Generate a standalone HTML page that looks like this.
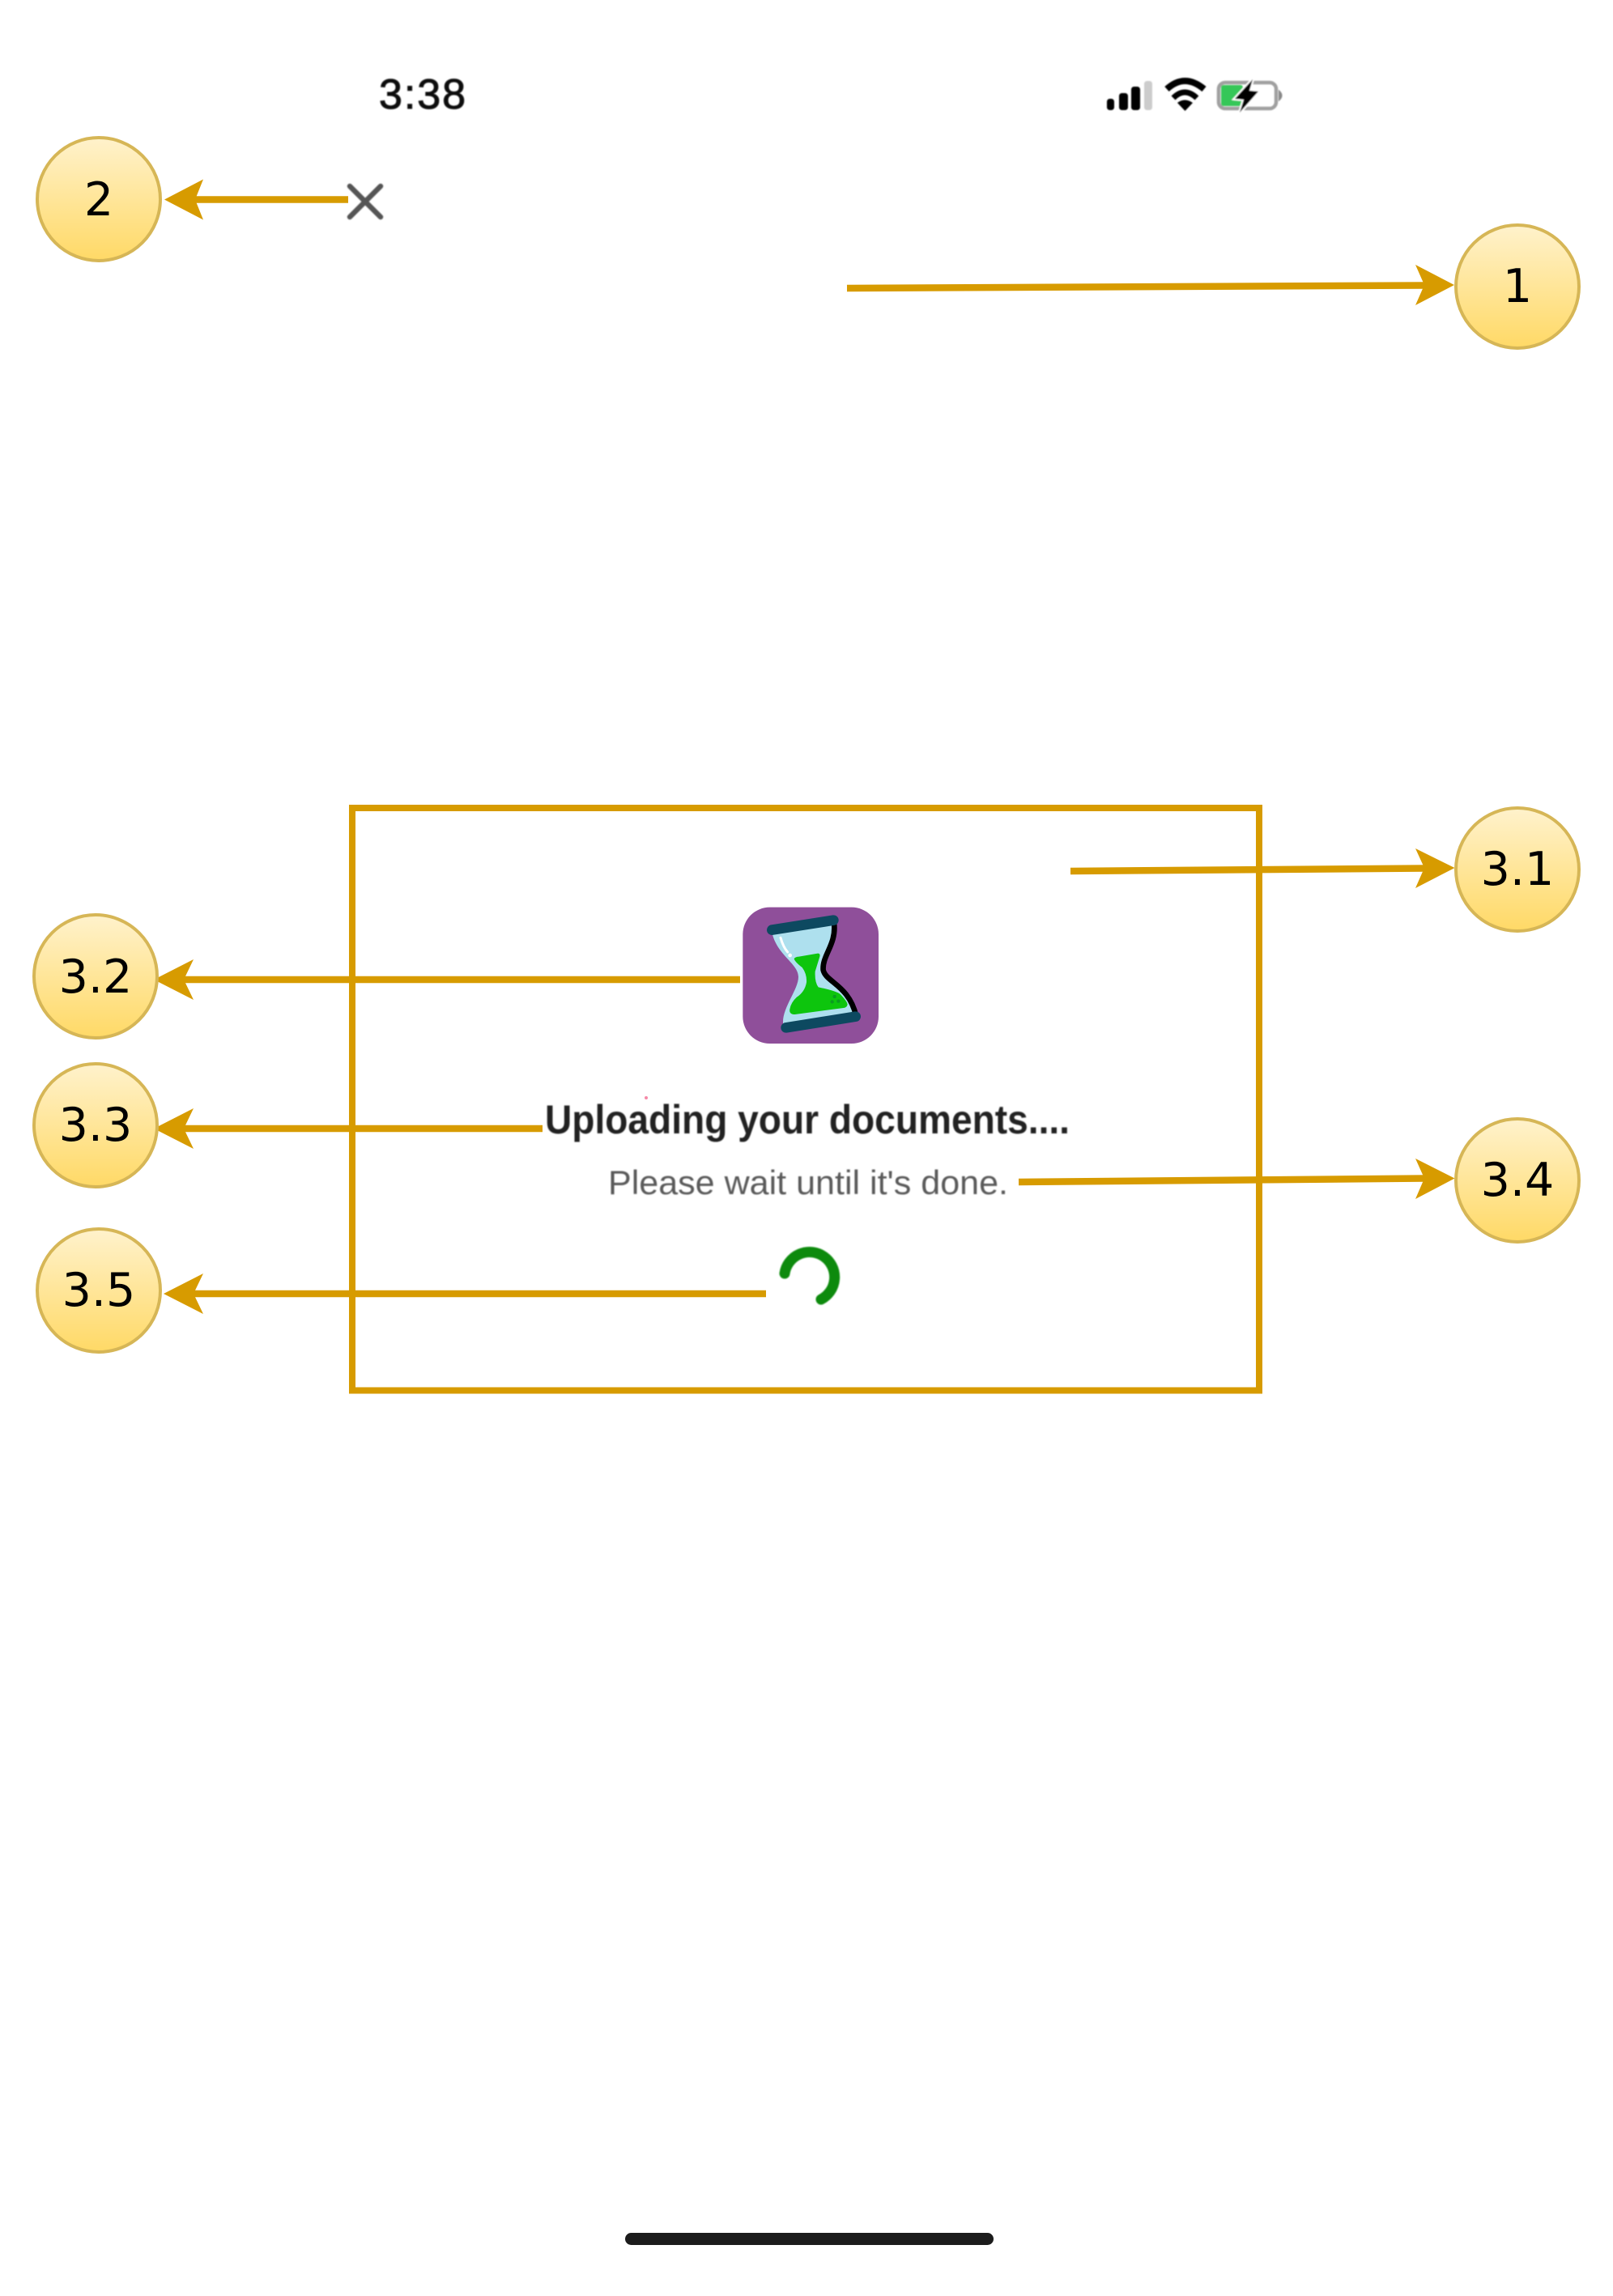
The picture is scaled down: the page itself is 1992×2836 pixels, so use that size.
<!DOCTYPE html>
<html lang="en">
<head>
<meta charset="utf-8">
<title>Upload progress annotated screen</title>
<style>
html,body{margin:0;padding:0;background:#fff;width:1992px;height:2836px;overflow:hidden}
svg{display:block}
.n{font-family:"DejaVu Sans",sans-serif;font-size:57px;fill:#000;text-anchor:middle}
</style>
</head>
<body>
<svg xmlns="http://www.w3.org/2000/svg" width="1992" height="2836" viewBox="0 0 1992 2836">
<defs>
<linearGradient id="g" x1="0" y1="0" x2="0" y2="1">
<stop offset="0" stop-color="#fff2cc"/><stop offset="1" stop-color="#ffd966"/>
</linearGradient>
<filter id="b" x="-30%" y="-30%" width="160%" height="160%"><feGaussianBlur stdDeviation="0.7"/></filter>
</defs>
<rect width="1992" height="2836" fill="#fff"/>

<!-- Status bar -->
<g filter="url(#b)">
<text x="468" y="134" font-family="'Liberation Sans',sans-serif" font-size="52" fill="#111" stroke="#111" stroke-width="1" textLength="107" lengthAdjust="spacing">3:38</text>
<rect x="1367" y="122" width="9" height="14" rx="3.5" fill="#000"/>
<rect x="1382" y="115" width="11" height="21" rx="3.5" fill="#000"/>
<rect x="1397" y="107" width="11" height="29" rx="3.5" fill="#000"/>
<rect x="1413" y="100" width="10" height="36" rx="3.5" fill="#ccc"/>
<path d="M1441 110Q1463 90 1487 110" fill="none" stroke="#000" stroke-width="8"/>
<path d="M1449 121Q1463 107 1478 121" fill="none" stroke="#000" stroke-width="7"/>
<path d="M1454 127Q1463 120 1473 127L1463.5 137Z" fill="#000"/>
<rect x="1505" y="102" width="71" height="32" rx="8" fill="none" stroke="#a0a0a0" stroke-width="4.5"/>
<path d="M1580 113Q1585 118 1580 123Z" fill="#888" stroke="#888" stroke-width="2"/>
<rect x="1508" y="105" width="27" height="26" rx="3" fill="#34c759"/>
<polygon points="1547,98 1525,122 1536,123 1531,139 1554,113 1543,112" fill="#000" stroke="#fff" stroke-width="4" paint-order="stroke"/>
</g>

<!-- Close icon -->
<path d="M432 230L470 268M470 230L432 268" stroke="#555" stroke-width="6.5" stroke-linecap="round" fill="none" filter="url(#b)"/>

<!-- Frame -->
<rect x="435" y="998" width="1120" height="719.5" fill="none" stroke="#d79b00" stroke-width="8"/>

<!-- Hourglass icon -->
<svg x="860" y="1090" width="300" height="220" viewBox="0 0 900 660">
<g filter="url(#b)">
<rect x="172" y="92" width="503" height="505" rx="100" fill="#8f4f9a"/>
<path d="M280 185L508 150C512 230 458 275 462 320C470 370 555 385 590 495L322 530C312 470 378 400 378 350C378 300 298 270 280 185Z" fill="#aee0ee"/>
<path d="M510 150C520 230 465 270 470 325C480 370 565 380 592 495" fill="none" stroke="#000" stroke-width="20"/>
<path d="M362 283Q365 276 380 275L450 263Q460 263 457 275L440 330Q438 370 452 388Q522 403 534 415Q558 440 560 452Q558 464 545 465L365 489Q343 489 346 470Q350 445 372 425Q402 405 408 370Q410 340 392 315Q366 295 362 283Z" fill="#07c50f"/>
<circle cx="512" cy="423" r="6" fill="#079a20"/><circle cx="503" cy="442" r="6" fill="#079a20"/><circle cx="526" cy="440" r="6" fill="#079a20"/>
<path d="M280 176L508 140M332 538L590 497" stroke="#0f4a60" stroke-width="38" stroke-linecap="round" fill="none"/>
<path d="M312 205Q322 240 338 258" stroke="#fff" stroke-width="9" stroke-linecap="round" fill="none"/>
<circle cx="347" cy="270" r="7" fill="#fff"/>
</g>
</svg>

<!-- Card text -->
<circle cx="798" cy="1356" r="2" fill="#f58aa8"/>
<text x="673" y="1400" font-family="'Liberation Sans',sans-serif" font-weight="700" font-size="50" fill="#212121" textLength="648" lengthAdjust="spacingAndGlyphs" filter="url(#b)">Uploading your documents....</text>
<text x="751" y="1475" font-family="'Liberation Sans',sans-serif" font-size="42" fill="#5a5a5a" textLength="494" lengthAdjust="spacingAndGlyphs" filter="url(#b)">Please wait until it's done.</text>

<!-- Spinner -->
<path d="M969 1573A31 31 0 1 1 1014 1605" fill="none" stroke="#0a8a0a" stroke-width="13" stroke-linecap="round" filter="url(#b)"/>

<!-- Home indicator -->
<rect x="772" y="2758" width="455" height="15" rx="7.5" fill="#1c1c1c"/>

<!-- Connectors -->
<g stroke="#d79b00" stroke-width="8.5" fill="none">
<path d="M241 246.5H430"/>
<path d="M1046 356L1760 352.5"/>
<path d="M1322 1076L1760 1072.5"/>
<path d="M227 1210H914"/>
<path d="M227 1394H670"/>
<path d="M1258 1460L1760 1455.5"/>
<path d="M239 1598H946"/>
</g>
<g fill="#d79b00">
<polygon points="203,246.5 251,221.5 241,246.5 251,271.5"/>
<polygon points="1796,352 1748,327 1759,352 1748,377"/>
<polygon points="1796.5,1072 1748,1048 1759,1072 1748,1097"/>
<polygon points="190,1210 239,1185 227,1210 239,1235"/>
<polygon points="190,1394 239,1369 227,1394 239,1419"/>
<polygon points="1796.5,1455.5 1748,1431 1759,1455.5 1748,1481"/>
<polygon points="202,1598 251,1573 239,1598 251,1623"/>
</g>

<!-- Callout circles -->
<g fill="url(#g)" stroke="#d6b656" stroke-width="4">
<circle cx="122" cy="246" r="76"/>
<circle cx="1874" cy="354" r="76"/>
<circle cx="1874" cy="1074" r="76"/>
<circle cx="118" cy="1206" r="76"/>
<circle cx="118" cy="1390" r="76"/>
<circle cx="1874" cy="1458" r="76"/>
<circle cx="122" cy="1594" r="76"/>
</g>
<text class="n" x="122" y="266">2</text>
<text class="n" x="1874" y="373">1</text>
<text class="n" x="1874" y="1093">3.1</text>
<text class="n" x="118" y="1226">3.2</text>
<text class="n" x="118" y="1409">3.3</text>
<text class="n" x="1874" y="1477">3.4</text>
<text class="n" x="122" y="1613">3.5</text>
</svg>
</body>
</html>
